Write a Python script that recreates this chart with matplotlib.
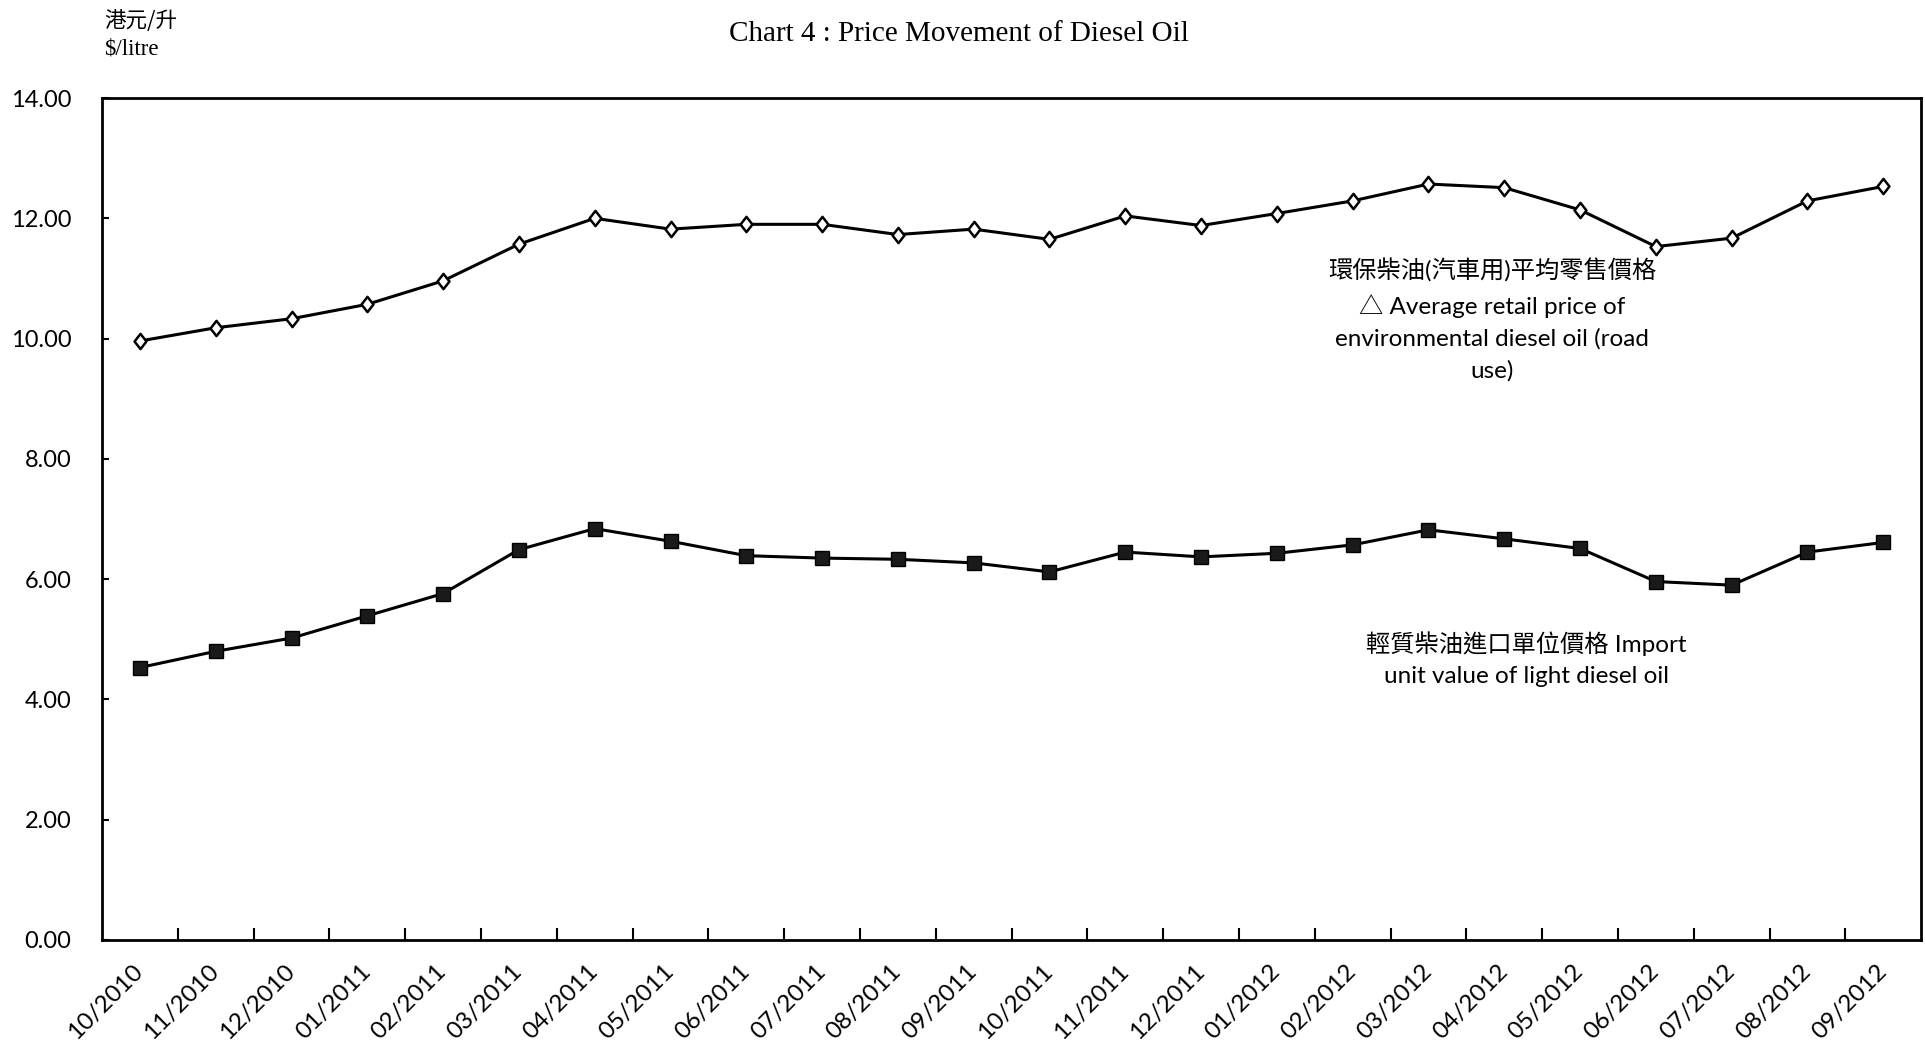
import numpy as np
import matplotlib.pyplot as plt
from matplotlib.path import Path

months = ["10/2010", "11/2010", "12/2010", "01/2011", "02/2011", "03/2011",
          "04/2011", "05/2011", "06/2011", "07/2011", "08/2011", "09/2011",
          "10/2011", "11/2011", "12/2011", "01/2012", "02/2012", "03/2012",
          "04/2012", "05/2012", "06/2012", "07/2012", "08/2012", "09/2012"]
retail = [9.96, 10.18, 10.33, 10.57, 10.96, 11.57, 12.00, 11.82, 11.90, 11.90,
          11.73, 11.82, 11.65, 12.04, 11.88, 12.08, 12.29, 12.57, 12.51, 12.14,
          11.53, 11.67, 12.29, 12.53]
imports = [4.53, 4.80, 5.02, 5.39, 5.76, 6.49, 6.84, 6.63, 6.39, 6.35,
           6.33, 6.27, 6.12, 6.45, 6.37, 6.43, 6.57, 6.82, 6.67, 6.51,
           5.96, 5.90, 6.45, 6.61]
yticks = [0, 2, 4, 6, 8, 10, 12, 14]

sans = ['Lato', 'Noto Sans CJK TC', 'DejaVu Sans']
serif = ['Liberation Serif', 'Noto Sans CJK TC', 'DejaVu Sans']
cjk = ['Noto Sans CJK TC', 'DejaVu Sans']

fig = plt.figure(figsize=(19.25, 10.43), dpi=100)
ax = fig.add_axes([0.053, 0.0988, 0.945, 0.8072])

x = np.arange(len(months))
diamond = Path([(0, 1), (0.78, 0), (0, -1), (-0.78, 0), (0, 1)],
               [Path.MOVETO, Path.LINETO, Path.LINETO, Path.LINETO, Path.CLOSEPOLY])
ax.plot(x, retail, color='black', lw=2.2, marker=diamond, markersize=11,
        markerfacecolor='white', markeredgecolor='black', markeredgewidth=1.8)
ax.plot(x, imports, color='black', lw=2.2, marker='s', markersize=9.5,
        markerfacecolor='#1a1a1a', markeredgecolor='black', markeredgewidth=1)

ax.set_xlim(-0.5, len(months) - 0.5)
ax.set_ylim(0, 14)
ax.set_yticks(yticks)
ax.set_yticklabels([f"{v:.2f}" for v in yticks], family=sans, fontsize=17)
ax.tick_params(axis='y', direction='in', length=5, width=1.5, pad=22)

# tick marks at category boundaries, labels at category centres
ax.set_xticks(x[1:] - 0.5)
ax.set_xticklabels([])
ax.tick_params(axis='x', which='major', direction='in', length=9, width=1.5)
ax.set_xticks(x, minor=True)
ax.set_xticklabels(months, minor=True, rotation=45, ha='right', va='center',
                   rotation_mode='anchor', family=sans, fontsize=17.5)
ax.tick_params(axis='x', which='minor', length=0, pad=20)

for s in ax.spines.values():
    s.set_linewidth(2)

fig.text(0.498, 0.967, "Chart 4 : Price Movement of Diesel Oil",
         family=serif, fontsize=21, ha='center', va='center')
fig.text(0.054, 0.980, "港元/升", family=cjk, fontsize=15.5, ha='left', va='center')
fig.text(0.054, 0.953, "$/litre", family=serif, fontsize=16.5, ha='left', va='center')

ax.text(1492 / 1925, 1 - 320 / 1043,
        "環保柴油(汽車用)平均零售價格\n△ Average retail price of\nenvironmental diesel oil (road\nuse)",
        transform=fig.transFigure, family=sans, fontsize=17.5, ha='center', va='center',
        linespacing=1.6)
ax.text(1526 / 1925, 1 - 659 / 1043,
        "輕質柴油進口單位價格 Import\nunit value of light diesel oil",
        transform=fig.transFigure, family=sans, fontsize=17.5, ha='center', va='center',
        linespacing=1.6)

fig.savefig("out.png", dpi=100)
